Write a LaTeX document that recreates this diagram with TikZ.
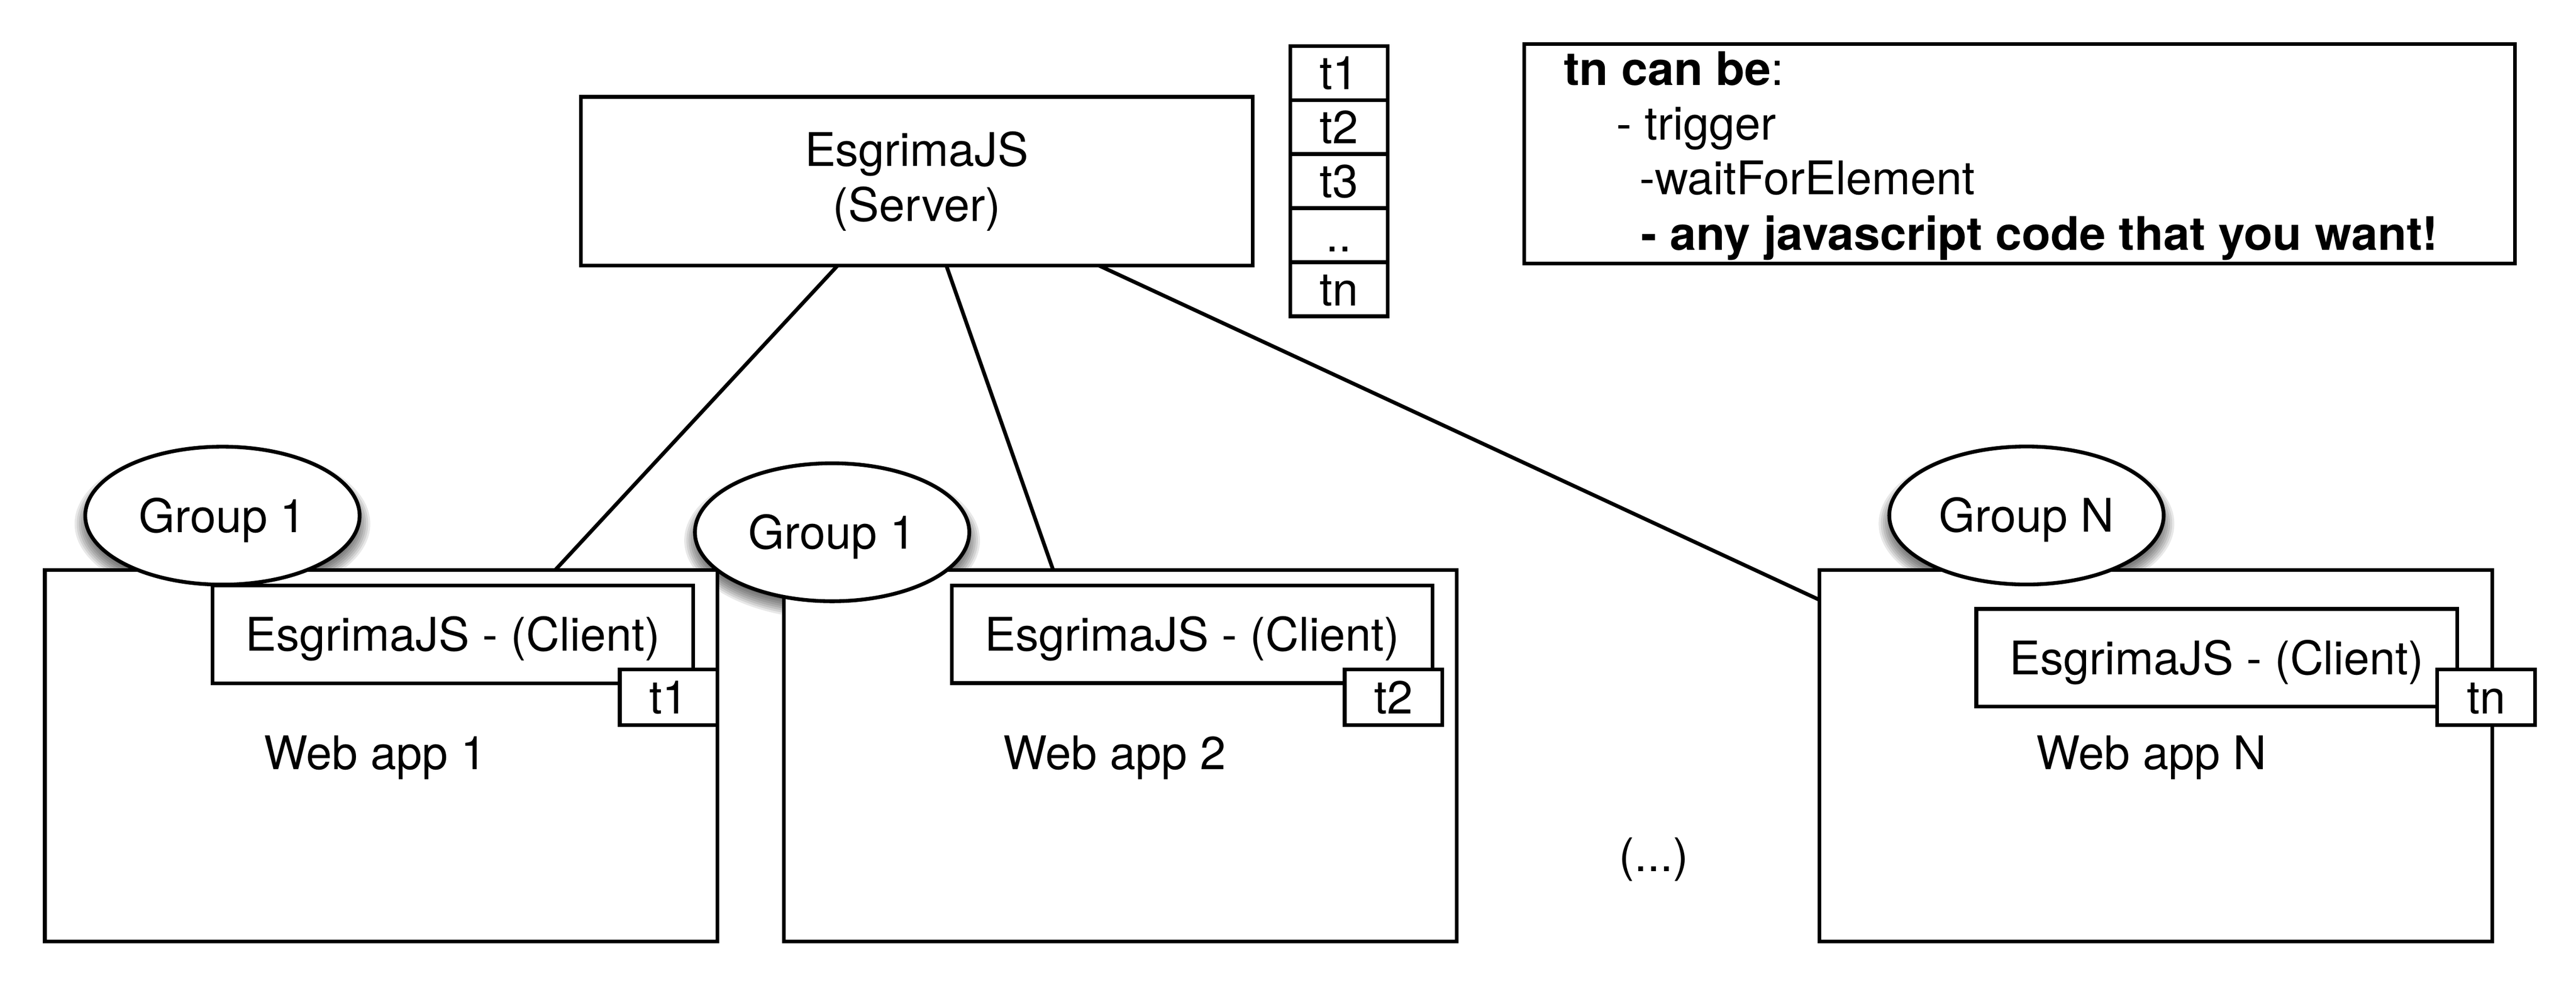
\documentclass[tikz,border=0pt]{standalone}
\usepackage{fontspec}
\setmainfont{TeX Gyre Heros}[BoldFeatures={FakeStretch=1.02}]
\usetikzlibrary{shapes.geometric,backgrounds}
\begin{document}
\begin{tikzpicture}[x=1pt,y=-1pt,
  every node/.style={font=\fontsize{28.2pt}{33.4pt}\selectfont, inner sep=0pt, outer sep=0pt},
  box/.style={draw, line width=2.3pt, fill=white, rectangle},
  app/.style={box, minimum width=409.5pt, minimum height=226pt},
  client/.style={box, minimum width=292.6pt, minimum height=59.5pt, text height=20.2pt, text depth=0pt},
  tok/.style={box, minimum width=59.5pt, minimum height=33.8pt, text height=20.2pt, text depth=0pt},
  stk/.style={box, minimum width=59.3pt, minimum height=32.9pt, text height=20.2pt, text depth=0pt},
  grp/.style={draw, line width=2.3pt, fill=white, ellipse, minimum width=167pt, minimum height=84pt, text height=20.2pt, text depth=0pt},
  conn/.style={draw, line width=2.3pt},
  lbl/.style={anchor=base}
]
\begin{pgfonlayer}{background}
  \fill[white] (0,0) rectangle (1568,599.4);
\end{pgfonlayer}
\useasboundingbox (0,0) rectangle (1568,599.4);

% web apps
\node[app] (app1) at (232,460) {};
\node[app] (app2) at (681.9,460) {};
\node[app] (appN) at (1312.3,460) {};

% clients
\node[client] (c1) at (275.6,386.2) {EsgrimaJS - (Client)};
\node[client] (c2) at (725.7,386.1) {EsgrimaJS - (Client)};
\node[client] (cN) at (1349.3,400.4) {EsgrimaJS - (Client)};

% tokens
\node[tok] (t1) at (407,424.4) {t1};
\node[tok] (t2) at (848.2,424.4) {t2};
\node[tok] (tN) at (1513.3,424.4) {tn};

% labels
\node[lbl] (w1) at (228.5,468.4) {Web app 1};
\node[lbl] (w2) at (678.5,468.3) {Web app 2};
\node[lbl] (wN) at (1309.5,468.3) {Web app N};
\node[lbl] (dots) at (1006.7,530.3) {(...)};

% server
\node[box, minimum width=409pt, minimum height=102.6pt, align=center] (server) at (558,110.3) {EsgrimaJS\\(Server)};

% token stack
\node[stk] (s1) at (815,44.45) {t1};
\node[stk] (s2) at (815,77.35) {t2};
\node[stk] (s3) at (815,110.25) {t3};
\node[stk] (s4) at (815,143.15) {..};
\node[stk] (s5) at (815,176.05) {tn};

% note
\node[box, minimum width=603pt, minimum height=133.7pt] (note) at (1229.3,93.65) {};
\node[anchor=base west] (n1) at (951.8,52) {{\bfseries tn can be}:};
\node[anchor=base west] (n2) at (983.9,85.1) {- trigger};
\node[anchor=base west] (n3) at (997.9,118.4) {-waitForElement};
\node[anchor=base west] (n4) at (999,152.2) {\bfseries - any javascript code that you want!};

% connectors
\draw[conn] ([xshift=156.4pt]server.south west) -- ([xshift=310.7pt]app1.north west);
\draw[conn] ([xshift=222.5pt]server.south west) -- ([xshift=163.9pt]app2.north west);
\draw[conn] ([xshift=315.3pt]server.south west) -- ([yshift=-18.2pt]appN.north west);

% groups
\node[grp] (g1) at (135.4,313.9) {Group 1};
\node[grp] (g2) at (506.5,324) {Group 1};
\node[grp] (gN) at (1233.5,313.8) {Group N};

\begin{pgfonlayer}{background}
  \foreach \g in {g1,g2,gN}{
    \foreach \k in {0,...,9}{
      \fill[black, opacity=0.09] ([yshift=-5pt]\g.center) ellipse [x radius={90-1.3*\k}, y radius={48-1.3*\k}];
    }
  }
\end{pgfonlayer}
\end{tikzpicture}
\end{document}
